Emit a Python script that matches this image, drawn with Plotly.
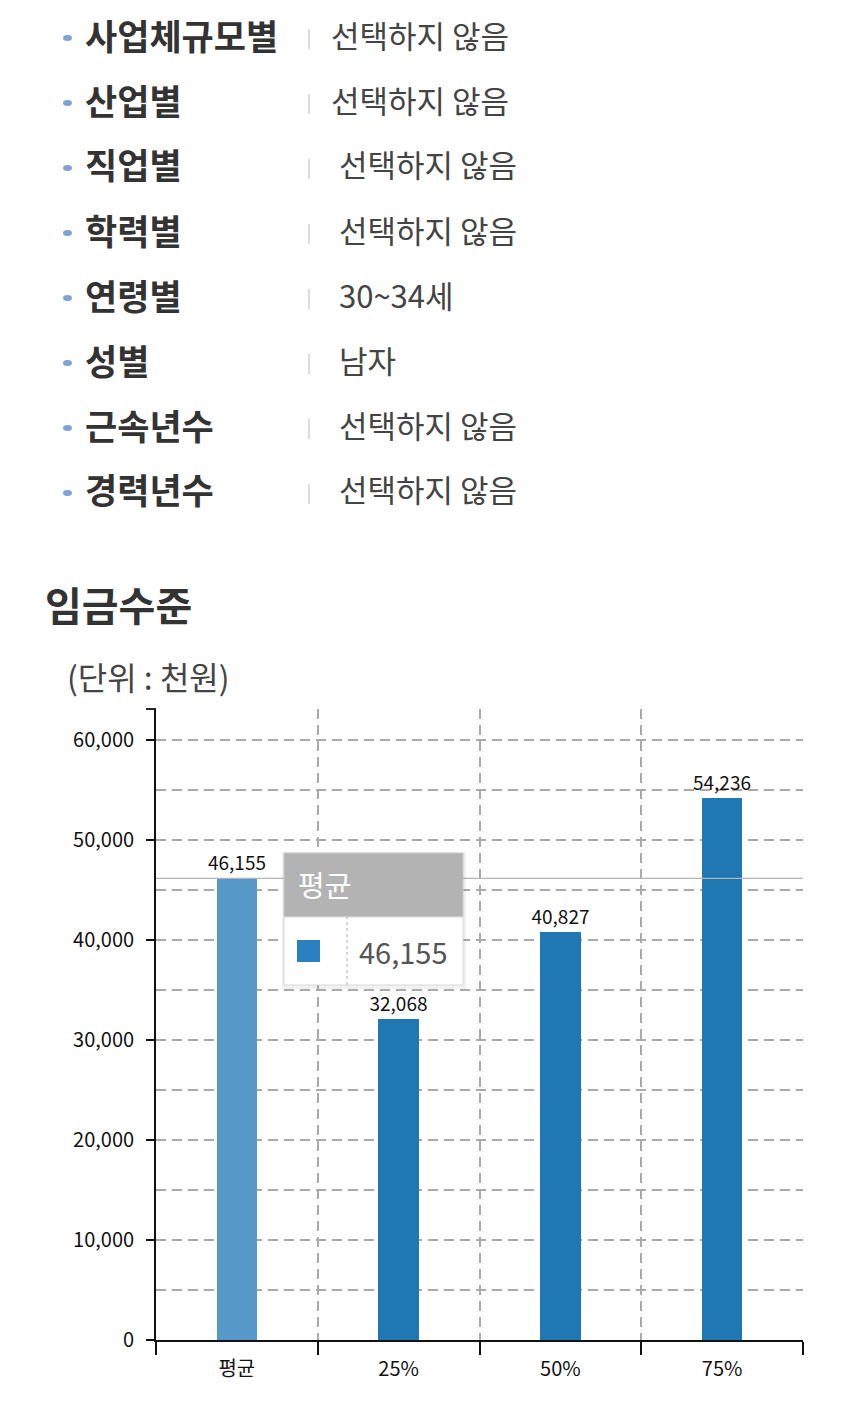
import plotly.graph_objects as go

# ---- data ----
filter_labels = ["사업체규모별", "산업별", "직업별", "학력별", "연령별", "성별", "근속년수", "경력년수"]
filter_values = ["선택하지 않음", "선택하지 않음", "선택하지 않음", "선택하지 않음", "30~34세", "남자", "선택하지 않음", "선택하지 않음"]
categories = ["평균", "25%", "50%", "75%"]
wages = [46155, 32068, 40827, 54236]
title_text = "임금수준"
unit_text = "(단위 : 천원)"
tooltip_name = "평균"
tooltip_value = 46155

# ---- layout helpers (pixel -> paper) ----
X0, X1, YT, YB = 156, 803, 709, 1340
def px(x):
    return (x - X0) / (X1 - X0)
def py(y):
    return (YB - y) / (YB - YT)

FONT = "Noto Sans CJK KR"
bar_colors = ["#5699c9"] + ["#1f77b4"] * (len(categories) - 1)

fig = go.Figure()
fig.add_trace(go.Bar(
    x=list(range(len(categories))), y=wages, width=0.25,
    marker=dict(color=bar_colors, line=dict(width=0)),
    text=[f"{v:,}" for v in wages], textposition="outside", constraintext="none",
    textfont=dict(family=FONT, size=19, color="#111"),
    cliponaxis=False, hoverinfo="skip",
))

annotations = []
shapes = []

# filter list
row_y0, row_dy = 34, 65
val_x = [329, 329, 337, 337, 337, 337, 337, 337]
for i, (lab, val) in enumerate(zip(filter_labels, filter_values)):
    yy = row_y0 + i * row_dy
    annotations.append(dict(x=px(83), y=py(yy), xref="paper", yref="paper", text=f"<b>{lab}</b>",
                            showarrow=False, xanchor="left", yanchor="middle",
                            font=dict(family=FONT, size=35, color="#333")))
    annotations.append(dict(x=px(val_x[i]), y=py(yy), xref="paper", yref="paper", text=val,
                            showarrow=False, xanchor="left", yanchor="middle",
                            font=dict(family=FONT, size=31, color="#444")))
    shapes.append(dict(type="circle", xref="paper", yref="paper", x0=px(63), x1=px(72),
                       y0=py(yy + 7), y1=py(yy + 1), fillcolor="#7ea2d6", line=dict(width=0)))
    shapes.append(dict(type="line", xref="paper", yref="paper", x0=px(309), x1=px(309),
                       y0=py(yy + 15), y1=py(yy - 5), line=dict(color="#d0d0d0", width=1.5)))

# title & unit
annotations.append(dict(x=px(43), y=py(604), xref="paper", yref="paper", text=f"<b>{title_text}</b>",
                        showarrow=False, xanchor="left", yanchor="middle",
                        font=dict(family=FONT, size=40, color="#333")))
annotations.append(dict(x=px(65), y=py(676), xref="paper", yref="paper", text=unit_text,
                        showarrow=False, xanchor="left", yanchor="middle",
                        font=dict(family=FONT, size=32, color="#444")))

# top stub of y axis
shapes.append(dict(type="line", xref="paper", yref="paper", x0=px(146), x1=px(156), y0=1, y1=1,
                   line=dict(color="#111", width=1.8)))

# hover spike line
shapes.append(dict(type="line", xref="paper", yref="y", x0=0, x1=1, y0=tooltip_value, y1=tooltip_value,
                   line=dict(color="#b5b5b5", width=1.2)))

# tooltip
tx0, tx1, ty0, tmid, ty1 = 284, 463, 853, 917, 985
shapes.append(dict(type="rect", xref="paper", yref="paper", x0=px(tx0 - 2), x1=px(tx1 + 3),
                   y0=py(ty1 + 4), y1=py(ty0 - 1), fillcolor="rgba(0,0,0,0.06)", line=dict(width=0)))
shapes.append(dict(type="rect", xref="paper", yref="paper", x0=px(tx0), x1=px(tx1),
                   y0=py(tmid), y1=py(ty0), fillcolor="#b3b3b3", line=dict(color="#c8c8c8", width=1)))
shapes.append(dict(type="rect", xref="paper", yref="paper", x0=px(tx0), x1=px(tx1),
                   y0=py(ty1), y1=py(tmid), fillcolor="#ffffff", line=dict(color="#d8d8d8", width=1)))
shapes.append(dict(type="line", xref="paper", yref="paper", x0=px(347), x1=px(347),
                   y0=py(ty1), y1=py(tmid), line=dict(color="#aaaaaa", width=1, dash="dot")))
shapes.append(dict(type="rect", xref="paper", yref="paper", x0=px(297), x1=px(320),
                   y0=py(962), y1=py(940), fillcolor="#2a80c0", line=dict(width=0)))
annotations.append(dict(x=px(296), y=py(884), xref="paper", yref="paper", text=tooltip_name,
                        showarrow=False, xanchor="left", yanchor="middle",
                        font=dict(family=FONT, size=29, color="#ffffff")))
annotations.append(dict(x=px(450), y=py(951), xref="paper", yref="paper", text=f"{tooltip_value:,}",
                        showarrow=False, xanchor="right", yanchor="middle",
                        font=dict(family=FONT, size=29, color="#555")))

grid_dash = "10px,6px"
grid_col = "#aaaaaa"
fig.update_layout(
    width=850, height=1418,
    margin=dict(l=X0, r=850 - X1, t=YT, b=1418 - YB),
    paper_bgcolor="white", plot_bgcolor="white",
    showlegend=False, bargap=0,
    font=dict(family=FONT, color="#111"),
    annotations=annotations, shapes=shapes,
    xaxis=dict(
        range=[-0.5, len(categories) - 0.5],
        tickvals=list(range(len(categories))), ticktext=categories,
        ticks="", showgrid=False, zeroline=False,
        showline=True, linecolor="#111", linewidth=1.8,
        tickfont=dict(family=FONT, size=20, color="#111"),
        ticklabelstandoff=10,
        minor=dict(tickvals=[i - 0.5 for i in range(len(categories) + 1)], ticks="outside",
                   ticklen=13, tickwidth=1.8, tickcolor="#111",
                   showgrid=True, gridcolor=grid_col, griddash=grid_dash, gridwidth=1.5),
        fixedrange=True,
    ),
    yaxis=dict(
        range=[0, 63100], tickvals=[0, 10000, 20000, 30000, 40000, 50000, 60000],
        tickformat=",d", ticks="outside", ticklen=8, tickwidth=1.8, tickcolor="#111",
        showline=True, linecolor="#111", linewidth=1.8, zeroline=False,
        showgrid=True, gridcolor=grid_col, griddash=grid_dash, gridwidth=1.5,
        tickfont=dict(family=FONT, size=20, color="#111"),
        ticklabelstandoff=8,
        minor=dict(tickvals=[5000, 15000, 25000, 35000, 45000, 55000], ticks="",
                   showgrid=True, gridcolor=grid_col, griddash=grid_dash, gridwidth=1.5),
        fixedrange=True,
    ),
)

fig.write_html("out.html", config={"displayModeBar": False})
